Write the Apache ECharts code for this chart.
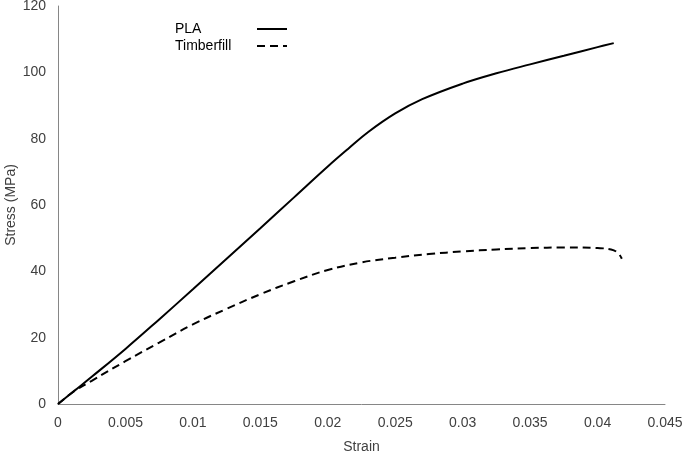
<!DOCTYPE html>
<html>
<head>
<meta charset="utf-8">
<script src="https://cdn.jsdelivr.net/npm/echarts@6/dist/echarts.min.js"></script>
<style>
  html, body { margin: 0; padding: 0; background: #fff; }
  #chart { width: 685px; height: 454px; }
</style>
</head>
<body>
<div id="chart"></div>
<script>
// strain / stress
var plaStrain = [0, 0.00125, 0.0025, 0.005, 0.0075, 0.01, 0.0125, 0.015, 0.0175, 0.02, 0.0215, 0.023, 0.025, 0.027, 0.03, 0.0325, 0.035, 0.0375, 0.04, 0.0412];
var plaStress = [0, 4.1, 8.2, 16.6, 25.5, 34.6, 43.8, 53.0, 62.3, 71.6, 76.9, 82.0, 87.6, 91.9, 96.6, 99.7, 102.4, 105.0, 107.6, 108.8];

var timberStrain = [0, 0.00125, 0.0025, 0.005, 0.0075, 0.01, 0.0125, 0.015, 0.0175, 0.02, 0.0225, 0.025, 0.0275, 0.03, 0.0325, 0.035, 0.0375, 0.04, 0.041, 0.0415, 0.0418];
var timberStress = [0, 4.0, 7.0, 12.9, 18.5, 24.0, 28.7, 33.1, 37.0, 40.4, 42.7, 44.1, 45.2, 46.0, 46.6, 47.0, 47.2, 47.0, 46.6, 45.6, 43.8];

var seriesNames = ['PLA', 'Timberfill'];

function pairs(xs, ys) {
    var out = [];
    for (var i = 0; i < xs.length; i++) out.push([xs[i], ys[i]]);
    return out;
}

var axisColor = '#868686';
var labelColor = '#404040';
var font = 'Liberation Sans, Arial';

var myChart = echarts.init(document.getElementById('chart'));
myChart.setOption({
    animation: false,
    backgroundColor: '#fff',
    grid: { left: 58, right: 20, top: 6, bottom: 50, containLabel: false, outerBoundsMode: 'none' },
    legend: {
        left: 170,
        top: 17,
        orient: 'vertical',
        align: 'right',
        itemGap: 3,
        itemWidth: 30,
        itemHeight: 14,
        itemStyle: { opacity: 0 },
        formatter: '{a|{name}}',
        textStyle: {
            color: '#000', fontSize: 14, fontFamily: font,
            rich: { a: { width: 77, align: 'left', color: '#000', fontSize: 14, fontFamily: font } }
        },
        data: seriesNames
    },
    xAxis: {
        type: 'value',
        min: 0,
        max: 0.045,
        interval: 0.005,
        name: 'Strain',
        nameLocation: 'middle',
        nameGap: 36,
        nameMoveOverlap: false,
        nameTextStyle: { color: labelColor, fontSize: 14, fontFamily: font },
        axisLine: { show: true, lineStyle: { color: axisColor, width: 1 } },
        axisTick: { show: false },
        splitLine: { show: false },
        axisLabel: {
            color: labelColor, fontSize: 14, margin: 12, fontFamily: font,
            formatter: function (v) { return String(parseFloat(v.toFixed(3))); }
        }
    },
    yAxis: {
        type: 'value',
        min: 0,
        max: 120,
        interval: 20,
        name: 'Stress (MPa)',
        nameLocation: 'middle',
        nameGap: 40,
        nameMoveOverlap: false,
        nameTextStyle: { color: labelColor, fontSize: 14, fontFamily: font },
        axisLine: { show: true, lineStyle: { color: axisColor, width: 1 } },
        axisTick: { show: false },
        splitLine: { show: false },
        axisLabel: { color: labelColor, fontSize: 14, margin: 12, fontFamily: font }
    },
    series: [
        {
            name: seriesNames[0],
            type: 'line',
            data: pairs(plaStrain, plaStress),
            showSymbol: false,
            symbol: 'none',
            smooth: 0.4,
            lineStyle: { color: '#000', width: 2 },
            itemStyle: { color: '#000' }
        },
        {
            name: seriesNames[1],
            type: 'line',
            data: pairs(timberStrain, timberStress),
            showSymbol: false,
            symbol: 'none',
            smooth: 0.4,
            lineStyle: { color: '#000', width: 2, type: [8, 5] },
            itemStyle: { color: '#000' }
        }
    ]
});
</script>
</body>
</html>
